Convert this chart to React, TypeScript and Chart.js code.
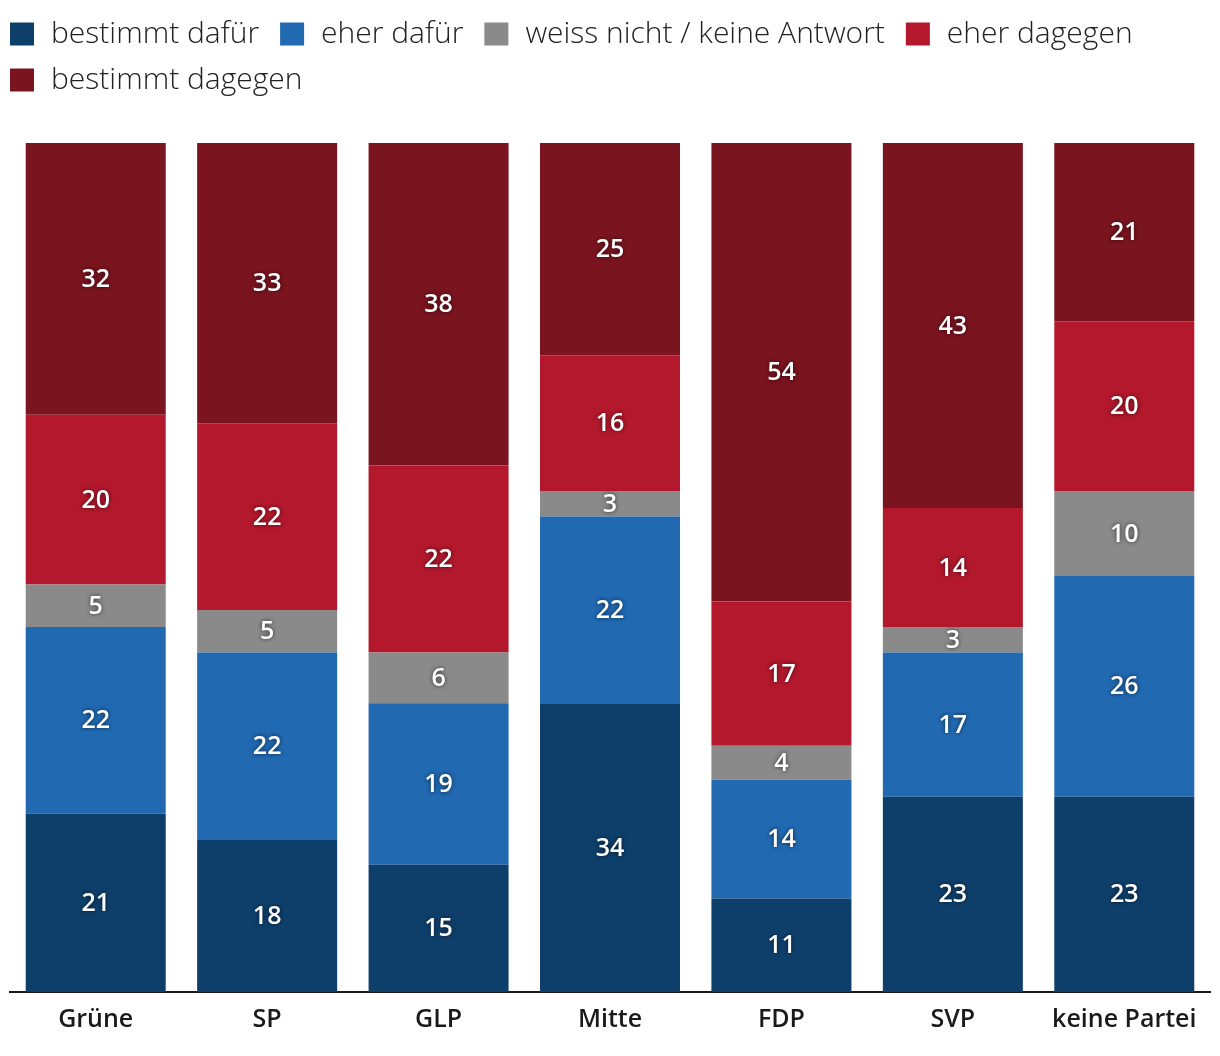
import React, { useEffect, useRef } from "react";
import { Chart, registerables } from "chart.js";

Chart.register(...registerables);

const categories = ["Grüne", "SP", "GLP", "Mitte", "FDP", "SVP", "keine Partei"];
const seriesNames = ["bestimmt dafür", "eher dafür", "weiss nicht / keine Antwort", "eher dagegen", "bestimmt dagegen"];
const bestimmtDafuer = [21, 18, 15, 34, 11, 23, 23];
const eherDafuer = [22, 22, 19, 22, 14, 17, 26];
const weissNicht = [5, 5, 6, 3, 4, 3, 10];
const eherDagegen = [20, 22, 22, 16, 17, 14, 20];
const bestimmtDagegen = [32, 33, 38, 25, 54, 43, 21];
const seriesColors = ["#0e3f6b", "#2169b1", "#8a8a8a", "#b3182c", "#7a141f"];

const FONT = "'Open Sans', 'Noto Sans', sans-serif";

const labelPlugin = {
  id: "barLabels",
  afterDatasetsDraw(chart: any) {
    const ctx = chart.ctx;
    ctx.save();
    ctx.font = `600 25px ${FONT}`;
    ctx.fillStyle = "#ffffff";
    ctx.textAlign = "center";
    ctx.textBaseline = "middle";
    ctx.shadowColor = "rgba(0,0,0,0.65)";
    ctx.shadowBlur = 4;
    chart.data.datasets.forEach((ds: any, i: number) => {
      const meta = chart.getDatasetMeta(i);
      meta.data.forEach((el: any, j: number) => {
        const v = ds.data[j];
        const y = (el.y + el.base) / 2;
        ctx.fillText(String(v), el.x, y + 1);
      });
    });
    ctx.restore();
  },
};

const legendPlugin = {
  id: "customLegend",
  afterDraw(chart: any) {
    const ctx = chart.ctx;
    ctx.save();
    ctx.font = `300 30px ${FONT}`;
    ctx.textBaseline = "middle";
    ctx.textAlign = "left";
    const startX = 10;
    const maxX = chart.width - 10;
    const boxW = 24;
    const boxH = 23;
    const gapText = 17;
    const gapItem = 21;
    const rowH = 46;
    let x = startX;
    let y = 34;
    chart.data.datasets.forEach((ds: any) => {
      const tw = ctx.measureText(ds.label).width;
      const w = boxW + gapText + tw;
      if (x + w > maxX && x > startX) {
        x = startX;
        y += rowH;
      }
      ctx.fillStyle = ds.backgroundColor;
      ctx.fillRect(x, y - boxH / 2, boxW, boxH);
      ctx.fillStyle = "#222222";
      ctx.fillText(ds.label, x + boxW + gapText, y);
      x += w + gapItem;
    });
    ctx.restore();
  },
};

export default function App() {
  const ref = useRef<HTMLCanvasElement>(null);
  useEffect(() => {
    document.body.style.margin = "0";
    const values = [bestimmtDafuer, eherDafuer, weissNicht, eherDagegen, bestimmtDagegen];
    const chart = new Chart(ref.current as HTMLCanvasElement, {
      type: "bar",
      data: {
        labels: categories,
        datasets: seriesNames.map((name, i) => ({
          label: name,
          data: values[i],
          backgroundColor: seriesColors[i],
          borderWidth: 0,
          categoryPercentage: 1,
          barPercentage: 0.8167,
        })),
      },
      options: {
        animation: false,
        responsive: false,
        layout: { padding: { left: 10, right: 10, top: 143, bottom: 8 } },
        plugins: {
          legend: { display: false },
          tooltip: { enabled: false },
        },
        scales: {
          x: {
            stacked: true,
            grid: { display: false, drawTicks: false },
            border: { display: true, color: "#1a1a1a", width: 2 },
            ticks: {
              color: "#1a1a1a",
              padding: 13,
              font: { family: FONT, size: 25, weight: 600 as any },
            },
          },
          y: {
            stacked: true,
            display: false,
            min: 0,
            max: 100,
          },
        },
      },
      plugins: [labelPlugin, legendPlugin],
    });
    return () => chart.destroy();
  }, []);
  return (
    <div style={{ width: 1220, height: 1056 }}>
      <canvas ref={ref} width={1220} height={1056} style={{ display: "block" }} />
    </div>
  );
}
